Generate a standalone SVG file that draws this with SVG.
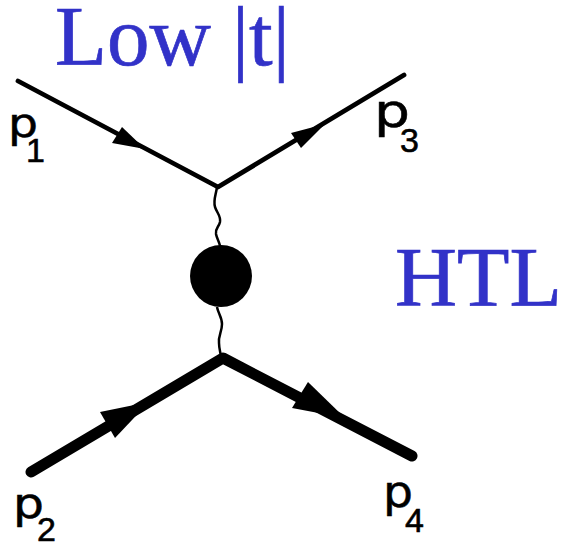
<svg xmlns="http://www.w3.org/2000/svg" width="563" height="543" viewBox="0 0 563 543">
<style>
.t{font-family:"Liberation Serif","Times New Roman",serif;fill:#3232c8;stroke:#3232c8;stroke-width:.7}
.p{font-family:"DejaVu Sans","Liberation Sans",sans-serif;fill:#000;stroke:#000;stroke-width:.5}
.s{font-family:"Liberation Sans",Arial,sans-serif;font-size:34px;fill:#000;stroke:#000;stroke-width:.6}
.l{fill:none;stroke:#000;stroke-linecap:round;stroke-linejoin:round}
.w{fill:none;stroke:#000;stroke-width:2.5}
</style>
<rect width="563" height="543" fill="#fff"/>
<g id="connectors">
<path class="l" stroke-width="4.8" d="M18 81L218 187L404 75"/>
<path class="l" stroke-width="11" d="M31 472L223 358L412 456"/>
<path class="w" d="M217 187C216 195 213 200 215 207C217 213 221 216 220 222C219 227 215 228 216 234C217 239 219 241 220 246"/>
<path class="w" d="M217 307C218 313 222 317 222 324C222 332 218 336 219 343C219 348 220 351 221 356"/>
<polygon points="112,143 122,127 145,149"/>
<polygon points="291,133 325,124 301,148"/>
<polygon points="100,412 149,402 115,438"/>
<polygon points="292,408 308,382 345,418"/>
</g>
<g id="node-htl"><circle cx="221" cy="276" r="31"/></g>
<g id="title"><text class="t" x="55" y="65" font-size="85">Low |t|</text></g>
<g id="htl-label"><text class="t" x="395" y="306" font-size="84" textLength="167" lengthAdjust="spacingAndGlyphs">HTL</text></g>
<g id="label-p1"><text class="p" x="8" y="137" font-size="40" textLength="30" lengthAdjust="spacingAndGlyphs">p</text><text class="s" x="26" y="162">1</text></g>
<g id="label-p3"><text class="p" x="374" y="127" font-size="46" textLength="36" lengthAdjust="spacingAndGlyphs">p</text><text class="s" x="400" y="152">3</text></g>
<g id="label-p2"><text class="p" x="13" y="518" font-size="42" textLength="31" lengthAdjust="spacingAndGlyphs">p</text><text class="s" x="37" y="541">2</text></g>
<g id="label-p4"><text class="p" x="383" y="507" font-size="44" textLength="30" lengthAdjust="spacingAndGlyphs">p</text><text class="s" x="405" y="532">4</text></g>
</svg>
